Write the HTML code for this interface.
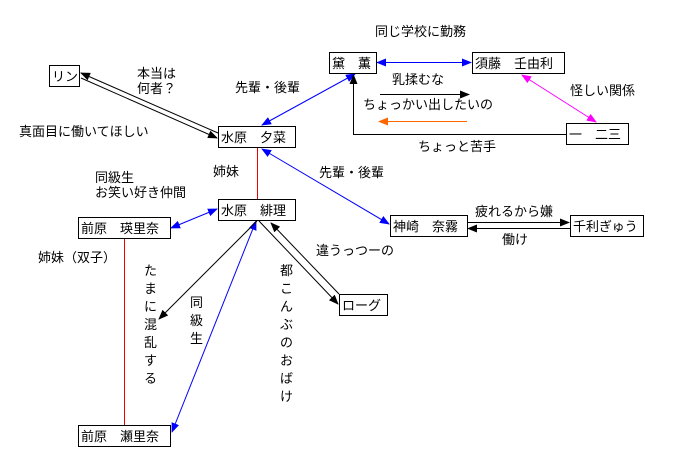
<!DOCTYPE html>
<html><head><meta charset="utf-8"><style>
html,body{margin:0;padding:0;background:#fff;}
svg{display:block;}
text{font-family:"Liberation Sans","Noto Sans CJK JP",sans-serif;font-size:13px;fill:#000;}
</style></head><body>
<svg width="678" height="465" viewBox="0 0 678 465" xmlns="http://www.w3.org/2000/svg">
<defs>
<marker id="ak" markerWidth="10" markerHeight="8" refX="9" refY="4" orient="auto-start-reverse" markerUnits="userSpaceOnUse"><path d="M0,0 L10,4 L0,8z" fill="#000"/></marker>
<marker id="ab" markerWidth="10" markerHeight="8" refX="9" refY="4" orient="auto-start-reverse" markerUnits="userSpaceOnUse"><path d="M0,0 L10,4 L0,8z" fill="#00f"/></marker>
<marker id="am" markerWidth="10" markerHeight="8" refX="9" refY="4" orient="auto-start-reverse" markerUnits="userSpaceOnUse"><path d="M0,0 L10,4 L0,8z" fill="#f0f"/></marker>
<marker id="ao" markerWidth="10" markerHeight="8" refX="9" refY="4" orient="auto-start-reverse" markerUnits="userSpaceOnUse"><path d="M0,0 L10,4 L0,8z" fill="#f60"/></marker>
</defs>
<g fill="none" stroke-width="1">
<!-- red lines -->
<line x1="257.5" y1="147" x2="257.5" y2="199" stroke="#e00"/>
<line x1="124.5" y1="238" x2="124.5" y2="425" stroke="#e00"/>
<!-- Rin double -->
<line x1="218" y1="133" x2="81" y2="73" stroke="#000" marker-end="url(#ak)"/>
<line x1="81" y1="78" x2="217" y2="138" stroke="#000" marker-end="url(#ak)"/>
<!-- blue -->
<line x1="262" y1="125" x2="355" y2="74" stroke="#00f" marker-start="url(#ab)" marker-end="url(#ab)"/>
<line x1="262" y1="149" x2="389" y2="224" stroke="#00f" marker-start="url(#ab)" marker-end="url(#ab)"/>
<line x1="217" y1="209" x2="171" y2="228" stroke="#00f" marker-start="url(#ab)" marker-end="url(#ab)"/>
<line x1="256" y1="221" x2="172" y2="432" stroke="#00f" marker-start="url(#ab)" marker-end="url(#ab)"/>
<line x1="377" y1="62.5" x2="471" y2="62.5" stroke="#00f" marker-start="url(#ab)" marker-end="url(#ab)"/>
<!-- black from 緋理 -->
<line x1="257" y1="221" x2="159" y2="319" stroke="#000" marker-end="url(#ak)"/>
<line x1="259" y1="221" x2="338" y2="304" stroke="#000" marker-end="url(#ak)"/>
<line x1="339" y1="294" x2="271" y2="223" stroke="#000" marker-end="url(#ak)"/>
<!-- magenta -->
<line x1="522" y1="75" x2="596" y2="122" stroke="#f0f" marker-start="url(#am)" marker-end="url(#am)"/>
<!-- 一二三 to 黛 -->
<polyline points="566,134.5 353.5,134.5 353.5,75" stroke="#000" marker-end="url(#ak)"/>
<line x1="380" y1="94.5" x2="469" y2="94.5" stroke="#000" marker-end="url(#ak)"/>
<line x1="467" y1="121.5" x2="379" y2="121.5" stroke="#f60" marker-end="url(#ao)"/>
<!-- 神崎-千利 -->
<line x1="467" y1="222.5" x2="569" y2="222.5" stroke="#000" marker-end="url(#ak)"/>
<line x1="570" y1="228.5" x2="468" y2="228.5" stroke="#000" marker-end="url(#ak)"/>
</g>
<g fill="#fff" stroke="#000" stroke-width="1">
<rect x="49.5" y="65.5" width="30" height="21"/>
<rect x="218.5" y="126.5" width="77" height="21"/>
<rect x="218.5" y="199.5" width="77" height="21"/>
<rect x="78.5" y="217.5" width="92" height="21"/>
<rect x="78.5" y="425.5" width="92" height="21"/>
<rect x="329.5" y="52.5" width="47" height="21"/>
<rect x="472.5" y="52.5" width="92" height="21"/>
<rect x="566.5" y="123.5" width="62" height="21"/>
<rect x="390.5" y="215.5" width="77" height="21"/>
<rect x="570.5" y="215.5" width="73" height="21"/>
<rect x="339.5" y="294.5" width="48" height="21"/>
</g>
<text x="52" y="81">リン</text>
<text x="221" y="142">水原　夕菜</text>
<text x="221" y="215">水原　緋理</text>
<text x="81" y="233">前原　瑛里奈</text>
<text x="81" y="441">前原　瀬里奈</text>
<text x="332" y="68">黛　薫</text>
<text x="475" y="68">須藤　壬由利</text>
<text x="569" y="139">一　二三</text>
<text x="393" y="231">神崎　奈霧</text>
<text x="573" y="231">千利ぎゅう</text>
<text x="342" y="310">ローグ</text>

<text x="375" y="36">同じ学校に勤務</text>
<text x="392" y="84">乳揉むな</text>
<text x="363" y="109">ちょっかい出したいの</text>
<text x="418" y="151">ちょっと苦手</text>
<text x="570" y="95">怪しい関係</text>
<text x="235" y="92">先輩・後輩</text>
<text x="137" y="78">本当は</text>
<text x="137" y="93">何者？</text>
<text x="19" y="136">真面目に働いてほしい</text>
<text x="213" y="176">姉妹</text>
<text x="95" y="182">同級生</text>
<text x="95" y="197">お笑い好き仲間</text>
<text x="319" y="177">先輩・後輩</text>
<text x="475" y="216">疲れるから嫌</text>
<text x="502" y="244">働け</text>
<text x="316" y="255">違うっつーの</text>
<text x="38" y="262">姉妹（双子）</text>
<text x="144" y="275"><tspan x="144">た</tspan><tspan x="144" dy="18">ま</tspan><tspan x="144" dy="18">に</tspan><tspan x="144" dy="18">混</tspan><tspan x="144" dy="18">乱</tspan><tspan x="144" dy="18">す</tspan><tspan x="144" dy="18">る</tspan></text>
<text x="190" y="307"><tspan x="190">同</tspan><tspan x="190" dy="18">級</tspan><tspan x="190" dy="18">生</tspan></text>
<text x="280" y="275"><tspan x="280">都</tspan><tspan x="280" dy="18">こ</tspan><tspan x="280" dy="18">ん</tspan><tspan x="280" dy="18">ぶ</tspan><tspan x="280" dy="18">の</tspan><tspan x="280" dy="18">お</tspan><tspan x="280" dy="18">ば</tspan><tspan x="280" dy="18">け</tspan></text>
</svg>
</body></html>
